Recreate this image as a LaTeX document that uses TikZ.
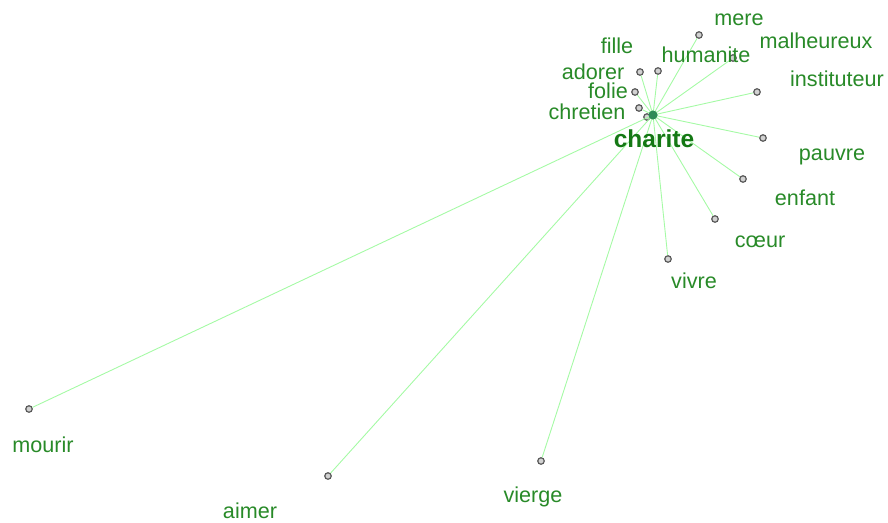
\documentclass[tikz,border=0pt]{standalone}
\usepackage{fontspec}
\setmainfont{Liberation Sans}
\definecolor{lbl}{RGB}{40,138,40}
\definecolor{hub}{RGB}{20,120,20}
\definecolor{edge}{RGB}{165,250,165}
\definecolor{hubdot}{RGB}{46,139,87}
\begin{document}
\begin{tikzpicture}[x=1pt,y=-1pt,
  lab/.style={anchor=base,inner sep=0pt,text=lbl,font=\fontsize{21.6}{24}\selectfont},
  hublab/.style={anchor=base,inner sep=0pt,text=hub,font=\fontsize{24.5}{27}\selectfont\bfseries},
  dot/.style={circle,minimum size=6.5pt,inner sep=0pt,fill=gray!35,draw=gray!70!black,line width=1.2pt},
  hubd/.style={circle,minimum size=9pt,inner sep=0pt,fill=hubdot},
  link/.style={draw=edge,line width=0.9pt}]
\useasboundingbox (0,0) rectangle (888,522);
% dots
\node[hubd] (c) at (653,115) {};
\node[dot] (dx) at (647,117) {};
\node[dot] (dmere) at (699,35) {};
\node[dot] (dhum) at (733,58) {};
\node[dot] (dfille) at (658,71) {};
\node[dot] (dador) at (640,72) {};
\node[dot] (dfolie) at (635,92) {};
\node[dot] (dchr) at (639,108) {};
\node[dot] (dinst) at (757,92) {};
\node[dot] (dpauv) at (763,138) {};
\node[dot] (denf) at (743,179) {};
\node[dot] (dcoeur) at (715,219) {};
\node[dot] (dvivre) at (668,259) {};
\node[dot] (dmour) at (29,409) {};
\node[dot] (daimer) at (328,476) {};
\node[dot] (dvier) at (541,461) {};
% connectors
\foreach \t in {dmere,dhum,dfille,dador,dfolie,dchr,dinst,dpauv,denf,dcoeur,dvivre,dmour,daimer,dvier}
  \draw[link] (c.center) -- (\t);
\node[hubd] at (c) {};
% labels
\node[lab] (lmere) at (739,25) {mere};
\node[lab] (lmal) at (816,48) {malheureux};
\node[lab] (lhum) at (706,62) {humanite};
\node[lab] (lfille) at (617,53) {fille};
\node[lab] (lador) at (593,79) {adorer};
\node[lab] (lfolie) at (608,98) {folie};
\node[lab] (lchr) at (587,119) {chretien};
\node[lab] (linst) at (837,86) {instituteur};
\node[hublab] (lc) at (654,147) {charite};
\node[lab] (lpauv) at (832,160) {pauvre};
\node[lab] (lenf) at (805,205) {enfant};
\node[lab] (lcoeur) at (760,247) {cœur};
\node[lab] (lvivre) at (694,288) {vivre};
\node[lab] (lmour) at (43,452) {mourir};
\node[lab] (laimer) at (250,518) {aimer};
\node[lab] (lvier) at (533,502) {vierge};
\end{tikzpicture}
\end{document}
